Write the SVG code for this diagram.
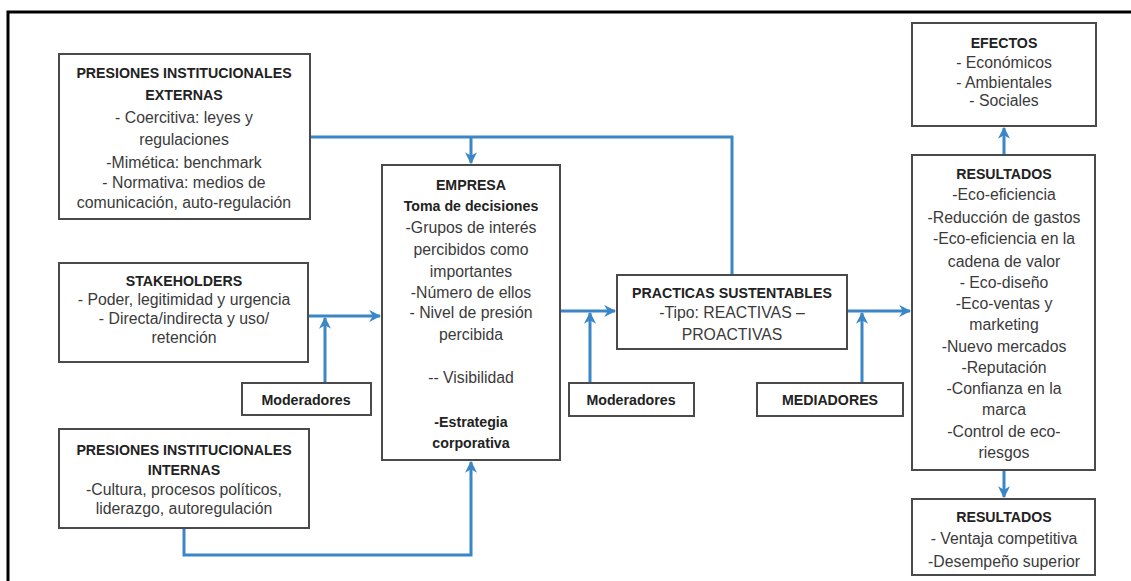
<svg xmlns="http://www.w3.org/2000/svg" width="1131" height="581" viewBox="0 0 1131 581">
<defs>
<marker id="ah" viewBox="0 0 10 10" refX="9" refY="5" markerWidth="4" markerHeight="4" orient="auto" markerUnits="strokeWidth">
<path d="M0,0 L10,5 L0,10 L3,5 Z" fill="#3a86c6"/>
</marker>
<style>
.box{fill:#fff;stroke:#4a4a4a;stroke-width:2}
.c{fill:none;stroke:#3a86c6;stroke-width:3}
text{font-family:"Liberation Sans",Arial,sans-serif;text-anchor:middle;fill:#3a3a3a;font-size:15.8px}
.b{font-weight:bold;fill:#222;font-size:14.2px}
</style>
</defs>
<rect width="1131" height="581" fill="#fff"/>
<path d="M8,581 V12 H1131" fill="none" stroke="#000" stroke-width="3"/>

<g id="connectors">
<path class="c" d="M310,137 H732 V275"/>
<path class="c" d="M471,137 V163" marker-end="url(#ah)"/>
<path class="c" d="M308,316 H380" marker-end="url(#ah)"/>
<path class="c" d="M325,383 V318" marker-end="url(#ah)"/>
<path class="c" d="M184,528 V555 H471 V462" marker-end="url(#ah)"/>
<path class="c" d="M560,311 H615" marker-end="url(#ah)"/>
<path class="c" d="M590,383 V313" marker-end="url(#ah)"/>
<path class="c" d="M847,311 H910" marker-end="url(#ah)"/>
<path class="c" d="M862,383 V313" marker-end="url(#ah)"/>
<path class="c" d="M1004,155 V128" marker-end="url(#ah)"/>
<path class="c" d="M1004,470 V497" marker-end="url(#ah)"/>
</g>

<g id="n_externas">
<rect class="box" x="59" y="54" width="251" height="165"/>
<text class="b" x="184" y="78">PRESIONES INSTITUCIONALES</text>
<text class="b" x="184" y="100">EXTERNAS</text>
<text x="184" y="123">- Coercitiva: leyes y</text>
<text x="184" y="145">regulaciones</text>
<text x="184" y="168">-Mimética: benchmark</text>
<text x="184" y="188">- Normativa: medios de</text>
<text x="184" y="208">comunicación, auto-regulación</text>
</g>

<g id="n_stakeholders">
<rect class="box" x="59" y="263" width="249" height="99"/>
<text class="b" x="184" y="286">STAKEHOLDERS</text>
<text x="184" y="305">- Poder, legitimidad y urgencia</text>
<text x="184" y="324">- Directa/indirecta y uso/</text>
<text x="184" y="343">retención</text>
</g>

<g id="n_mod1">
<rect class="box" x="242" y="383" width="129" height="32"/>
<text class="b" x="306" y="405">Moderadores</text>
</g>

<g id="n_internas">
<rect class="box" x="59" y="429" width="250" height="99"/>
<text class="b" x="184" y="455">PRESIONES INSTITUCIONALES</text>
<text class="b" x="184" y="475">INTERNAS</text>
<text x="184" y="495">-Cultura, procesos políticos,</text>
<text x="184" y="514">liderazgo, autoregulación</text>
</g>

<g id="n_empresa">
<rect class="box" x="382" y="165" width="178" height="295"/>
<text class="b" x="471" y="190">EMPRESA</text>
<text class="b" x="471" y="211">Toma de decisiones</text>
<text x="471" y="233">-Grupos de interés</text>
<text x="471" y="255">percibidos como</text>
<text x="471" y="277">importantes</text>
<text x="471" y="298">-Número de ellos</text>
<text x="471" y="318">- Nivel de presión</text>
<text x="471" y="340">percibida</text>
<text x="471" y="383">-- Visibilidad</text>
<text class="b" x="471" y="427">-Estrategia</text>
<text class="b" x="471" y="448">corporativa</text>
</g>

<g id="n_mod2">
<rect class="box" x="569" y="383" width="125" height="33"/>
<text class="b" x="631" y="405">Moderadores</text>
</g>

<g id="n_practicas">
<rect class="box" x="617" y="275" width="230" height="74"/>
<text class="b" x="732" y="298">PRACTICAS SUSTENTABLES</text>
<text x="732" y="318">-Tipo: REACTIVAS –</text>
<text x="732" y="340">PROACTIVAS</text>
</g>

<g id="n_mediadores">
<rect class="box" x="757" y="383" width="146" height="33"/>
<text class="b" x="830" y="405">MEDIADORES</text>
</g>

<g id="n_efectos">
<rect class="box" x="912" y="23" width="184" height="103"/>
<text class="b" x="1004" y="48">EFECTOS</text>
<text x="1004" y="68">- Económicos</text>
<text x="1004" y="88">- Ambientales</text>
<text x="1004" y="106">- Sociales</text>
</g>

<g id="n_resultados">
<rect class="box" x="912" y="155" width="183" height="315"/>
<text class="b" x="1004" y="179">RESULTADOS</text>
<text x="1004" y="200">-Eco-eficiencia</text>
<text x="1004" y="223">-Reducción de gastos</text>
<text x="1004" y="244">-Eco-eficiencia en la</text>
<text x="1004" y="267">cadena de valor</text>
<text x="1004" y="288">- Eco-diseño</text>
<text x="1004" y="309">-Eco-ventas y</text>
<text x="1004" y="330">marketing</text>
<text x="1004" y="352">-Nuevo mercados</text>
<text x="1004" y="373">-Reputación</text>
<text x="1004" y="394">-Confianza en la</text>
<text x="1004" y="415">marca</text>
<text x="1004" y="437">-Control de eco-</text>
<text x="1004" y="458">riesgos</text>
</g>

<g id="n_resultados2">
<rect class="box" x="912" y="499" width="183" height="76"/>
<text class="b" x="1004" y="522">RESULTADOS</text>
<text x="1004" y="544">- Ventaja competitiva</text>
<text x="1004" y="567">-Desempeño superior</text>
</g>
</svg>
